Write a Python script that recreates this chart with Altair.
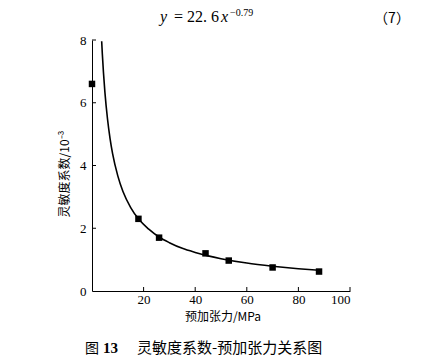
import altair as alt
import pandas as pd

# measured points
tension = [0, 18, 26, 44, 53, 70, 88]
sens = [6.6, 2.3, 1.7, 1.2, 0.97, 0.75, 0.62]

# fitted curve
curve_x = [3.75, 4, 5, 6, 7, 8, 10, 12, 15, 18, 22, 26, 30, 35, 40, 45, 50, 60, 70, 80, 88]
curve_y = [7.96, 7.56, 6.34, 5.49, 4.86, 4.37, 3.67, 3.17, 2.66, 2.30, 1.97, 1.72, 1.54,
           1.36, 1.23, 1.12, 1.03, 0.89, 0.79, 0.71, 0.66]

x_ticks = [20, 40, 60, 80, 100]
y_ticks = [0, 2, 4, 6, 8]

W, H = 258, 251
SERIF = "Liberation Serif"
CJK = "Noto Sans CJK SC"

pts = pd.DataFrame({"x": tension, "y": sens})
crv = pd.DataFrame({"x": curve_x, "y": curve_y})

xs = alt.Scale(domain=[0, 100], nice=False, zero=True)
ys = alt.Scale(domain=[0, 8], nice=False)

xaxis = alt.Axis(values=x_ticks, ticks=False, grid=False, domainColor="black",
                 labelFont=SERIF, labelFontSize=13, labelColor="black", labelPadding=2, title=None)
yaxis = alt.Axis(values=y_ticks, ticks=False, grid=False, domainColor="black",
                 labelFont=SERIF, labelFontSize=13, labelColor="black", labelPadding=6, title=None)

curve = alt.Chart(crv).mark_line(color="black", strokeWidth=1.6, interpolate="monotone").encode(
    x=alt.X("x:Q", scale=xs, axis=xaxis),
    y=alt.Y("y:Q", scale=ys, axis=yaxis),
)
points = alt.Chart(pts).mark_square(color="black", opacity=1, size=42).encode(
    x=alt.X("x:Q", scale=xs), y=alt.Y("y:Q", scale=ys)
)

xt = alt.Chart(pd.DataFrame({"x": x_ticks})).mark_rule(color="black", strokeWidth=1).encode(
    x=alt.X("x:Q", scale=xs), y=alt.value(H - 4), y2=alt.value(H)
)
yt = alt.Chart(pd.DataFrame({"y": y_ticks[1:]})).mark_rule(color="black", strokeWidth=1).encode(
    y=alt.Y("y:Q", scale=ys), x=alt.value(0), x2=alt.value(4)
)

def txt(text, x, y, size=12, font=CJK, **kw):
    return alt.Chart(pd.DataFrame({"t": [text]})).mark_text(
        font=font, fontSize=size, color="black", **kw
    ).encode(text="t:N", x=alt.value(x), y=alt.value(y))

labels = [
    txt("灵敏度系数/10⁻³", -27, 134, size=12, angle=270, baseline="middle", align="center"),
    txt("预加张力/MPa", 131, 277, size=12, baseline="middle", align="center"),
    txt("y", 68, -18, size=16, font=SERIF, fontStyle="italic", align="left", baseline="alphabetic"),
    txt("= 22. 6", 82, -18, size=16, font=SERIF, align="left", baseline="alphabetic"),
    txt("x", 129, -18, size=16, font=SERIF, fontStyle="italic", align="left", baseline="alphabetic"),
    txt("−0.79", 138, -24, size=10, font=SERIF, align="left", baseline="alphabetic"),
    txt("（7）", 300, -21, size=14, align="center", baseline="middle"),
    txt("图", -7, 313, size=14, align="left", baseline="alphabetic"),
    txt("13", 11, 313, size=15, font=SERIF, fontWeight="bold", align="left", baseline="alphabetic"),
    txt("灵敏度系数-预加张力关系图", 45, 313, size=15, align="left", baseline="alphabetic"),
]

chart = alt.layer(curve, points, xt, yt, *labels).properties(
    width=W, height=H,
    autosize=alt.AutoSizeParams(type="none"),
    padding={"left": 84, "top": 32, "right": 67, "bottom": 66},
).configure_view(stroke=None)

chart.save("out.html", embed_options={"renderer": "svg", "actions": False})
